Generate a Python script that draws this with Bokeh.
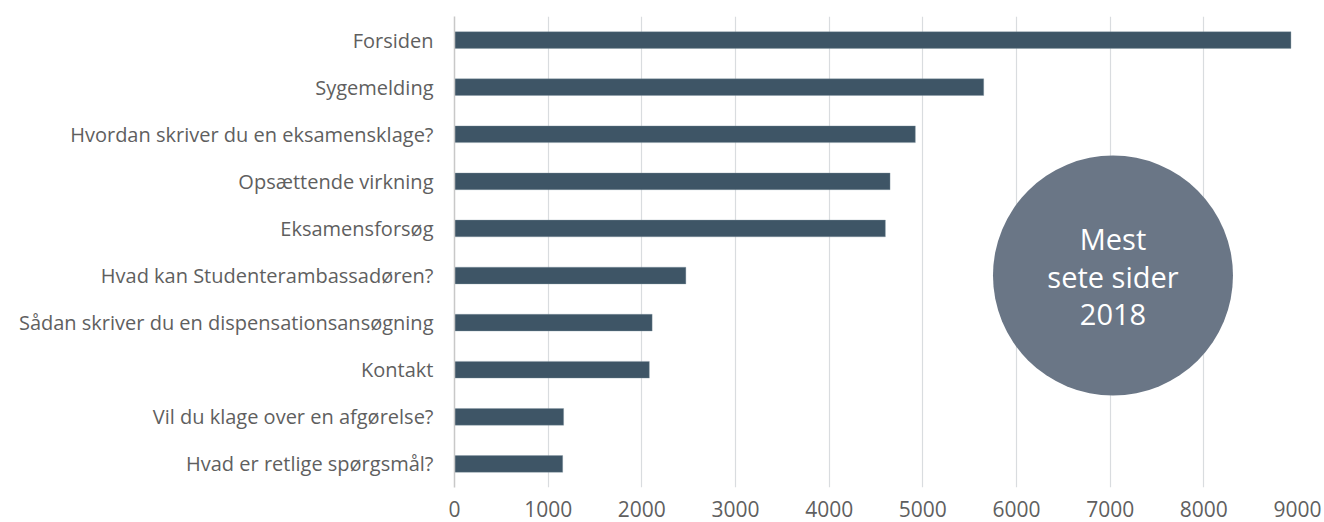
from bokeh.plotting import figure
from bokeh.models import Range1d, FactorRange, FixedTicker, ColumnDataSource
from bokeh.core.properties import value
from bokeh.embed import file_html
from bokeh.resources import INLINE

pages = [
    "Forsiden",
    "Sygemelding",
    "Hvordan skriver du en eksamensklage?",
    "Opsættende virkning",
    "Eksamensforsøg",
    "Hvad kan Studenterambassadøren?",
    "Sådan skriver du en dispensationsansøgning",
    "Kontakt",
    "Vil du klage over en afgørelse?",
    "Hvad er retlige spørgsmål?",
]
views = [8930, 5650, 4920, 4650, 4600, 2470, 2110, 2080, 1165, 1155]
x_ticks = [0, 1000, 2000, 3000, 4000, 5000, 6000, 7000, 8000, 9000]
badge_lines = ["Mest", "sete sider", "2018"]

FONT = "Open Sans"
TEXT_COLOR = "#5f5f5f"
BAR_COLOR = "#3e5566"
BADGE_COLOR = "#6a7686"

p = figure(
    width=1324, height=522,
    x_range=Range1d(0, 9000),
    y_range=FactorRange(*reversed(pages)),
    output_backend="svg", toolbar_location=None,
    min_border_left=454, min_border_right=27,
    min_border_top=16, min_border_bottom=35,
)
p.outline_line_color = None
p.background_fill_color = "white"
p.border_fill_color = "white"

src = ColumnDataSource(dict(page=pages, views=views))
p.hbar(y="page", right="views", left=0, height=0.355, source=src,
       fill_color=BAR_COLOR, line_color="#8596a3", line_width=0.6, line_alpha=0.6)

# grid
p.ygrid.grid_line_color = None
p.xgrid.grid_line_color = "#d9dcdf"
p.xgrid.grid_line_width = 1.2
p.xgrid.ticker = FixedTicker(ticks=x_ticks)

# x axis
p.xaxis.ticker = FixedTicker(ticks=x_ticks)
p.xaxis.axis_line_color = None
p.xaxis.major_tick_line_color = None
p.xaxis.minor_tick_line_color = None
p.xaxis.major_tick_out = 0
p.xaxis.major_tick_in = 0
p.xaxis.major_label_standoff = 13
p.xaxis.major_label_text_font = FONT
p.xaxis.major_label_text_font_size = "21px"
p.xaxis.major_label_text_color = TEXT_COLOR

# y axis
p.yaxis.axis_line_color = "#c8c8c8"
p.yaxis.axis_line_width = 1.5
p.yaxis.major_tick_line_color = None
p.yaxis.minor_tick_line_color = None
p.yaxis.major_tick_out = 0
p.yaxis.major_tick_in = 0
p.yaxis.major_label_standoff = 21
p.yaxis.major_label_text_font = FONT
p.yaxis.major_label_text_font_size = "20px"
p.yaxis.major_label_text_color = TEXT_COLOR

# badge
badge_x = 7030
badge_y = pages[5]
p.scatter(x=[badge_x], y=[badge_y], size=240, marker="circle",
          fill_color=BADGE_COLOR, line_color=None)
p.text(x=[badge_x] * 3, y=[badge_y] * 3, text=badge_lines,
       y_offset=[-37, 1, 39],
       text_font=value(FONT), text_font_size="29px", text_color="white",
       text_align="center", text_baseline="middle")

open("out.html", "w").write(file_html(p, INLINE))
